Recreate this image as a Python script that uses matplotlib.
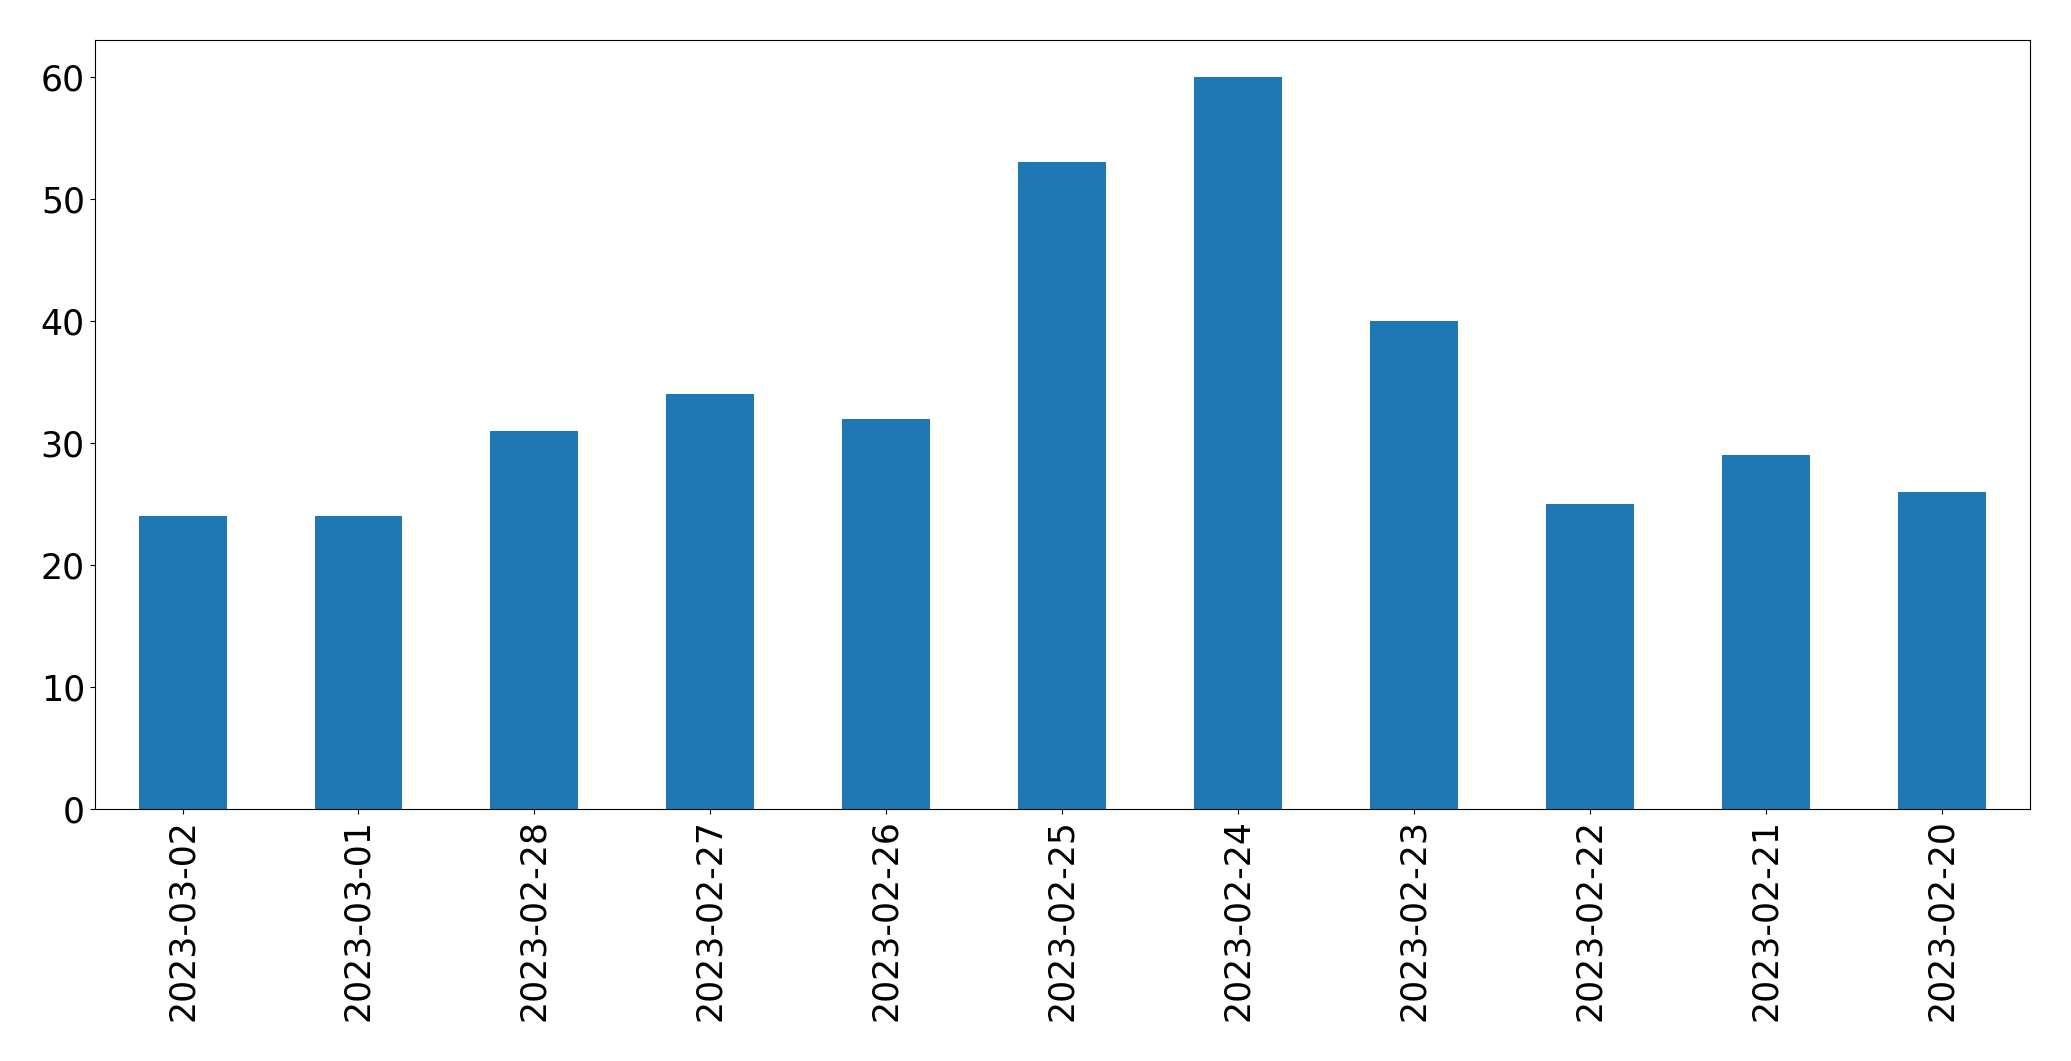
import matplotlib
matplotlib.use("Agg")
import matplotlib.pyplot as plt
import numpy as np

dates = ["2023-03-02", "2023-03-01", "2023-02-28", "2023-02-27", "2023-02-26",
         "2023-02-25", "2023-02-24", "2023-02-23", "2023-02-22", "2023-02-21", "2023-02-20"]
counts = [24, 24, 31, 34, 32, 53, 60, 40, 25, 29, 26]

fig = plt.figure(figsize=(20.71, 10.61), dpi=100)
ax = fig.add_axes([0.0457, 0.2375, 0.9343, 0.7245])
x = np.arange(len(dates))
ax.bar(x, counts, width=0.5, color="#1f77b4")
ax.set_xlim(-0.5, len(dates) - 0.5)
ax.set_ylim(0, max(counts) * 1.05)
ax.set_xticks(x)
ax.set_xticklabels(dates, rotation=90)
ax.tick_params(axis="both", labelsize=25)
fig.savefig("out.png", dpi=100)
